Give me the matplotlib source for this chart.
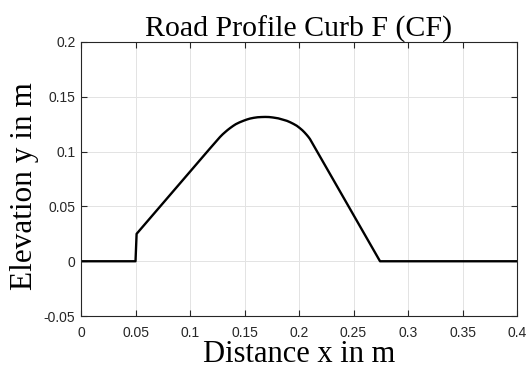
import matplotlib
matplotlib.use("Agg")
import matplotlib.pyplot as plt

# Profile points
x_m = [0.0, 0.050, 0.051, 0.118, 0.1275, 0.1300, 0.1325, 0.1345, 0.1367, 0.1395, 0.142,
       0.1455, 0.149, 0.152, 0.155, 0.1585, 0.162, 0.1655, 0.169, 0.1725, 0.176, 0.181,
       0.1856, 0.189, 0.192, 0.195, 0.198, 0.2005, 0.203, 0.205, 0.207, 0.2085, 0.210,
       0.2743, 0.4]
y_m = [0.0, 0.0, 0.025, 0.1025, 0.1133, 0.1158, 0.1180, 0.1197, 0.1214, 0.1234, 0.1250,
       0.1267, 0.1281, 0.1292, 0.1301, 0.1308, 0.1313, 0.1315, 0.1316, 0.1315, 0.1311, 0.1303,
       0.1290, 0.1280, 0.1267, 0.1252, 0.1235, 0.1216, 0.1195, 0.1175, 0.1153, 0.1135, 0.1115,
       0.0, 0.0]

x_ticks = [0, 0.05, 0.1, 0.15, 0.2, 0.25, 0.3, 0.35, 0.4]
x_tick_labels = ["0", "0.05", "0.1", "0.15", "0.2", "0.25", "0.3", "0.35", "0.4"]
y_ticks = [-0.05, 0, 0.05, 0.1, 0.15, 0.2]
y_tick_labels = ["-0.05", "0", "0.05", "0.1", "0.15", "0.2"]

title = "Road Profile Curb F (CF)"
xlabel = "Distance x in m"
ylabel = "Elevation y in m"

fig = plt.figure(figsize=(5.26, 3.71), dpi=100)
ax = fig.add_axes([0.154, 0.148, 0.829, 0.739])
ax.plot(x_m, y_m, color="black", lw=1.7, solid_joinstyle="round")
ax.set_xlim(0, 0.4)
ax.set_ylim(-0.05, 0.2)
ax.set_xticks(x_ticks)
ax.set_xticklabels(x_tick_labels)
ax.set_yticks(y_ticks)
ax.set_yticklabels(y_tick_labels)
ax.grid(True, color="#e3e3e3", lw=0.7)
ax.set_axisbelow(True)
ax.tick_params(direction="in", top=True, right=True, length=4, width=0.8,
               labelsize=10, colors="#262626")
ax.tick_params(axis="x", pad=7)
ax.tick_params(axis="y", pad=4)
for lab in ax.get_xticklabels() + ax.get_yticklabels():
    lab.set_family(["Liberation Sans", "DejaVu Sans"])
    lab.set_color("#262626")
for s in ax.spines.values():
    s.set_color("#262626")
    s.set_linewidth(0.8)

serif = ["Liberation Serif", "DejaVu Serif"]
ax.set_title(title, family=serif, fontsize=21.5, pad=4)
ax.set_xlabel(xlabel, family=serif, fontsize=22, labelpad=0)
ax.set_ylabel(ylabel, family=serif, fontsize=22.5)
ax.yaxis.set_label_coords(-0.097, 0.474)

fig.savefig("out.png", dpi=100)
